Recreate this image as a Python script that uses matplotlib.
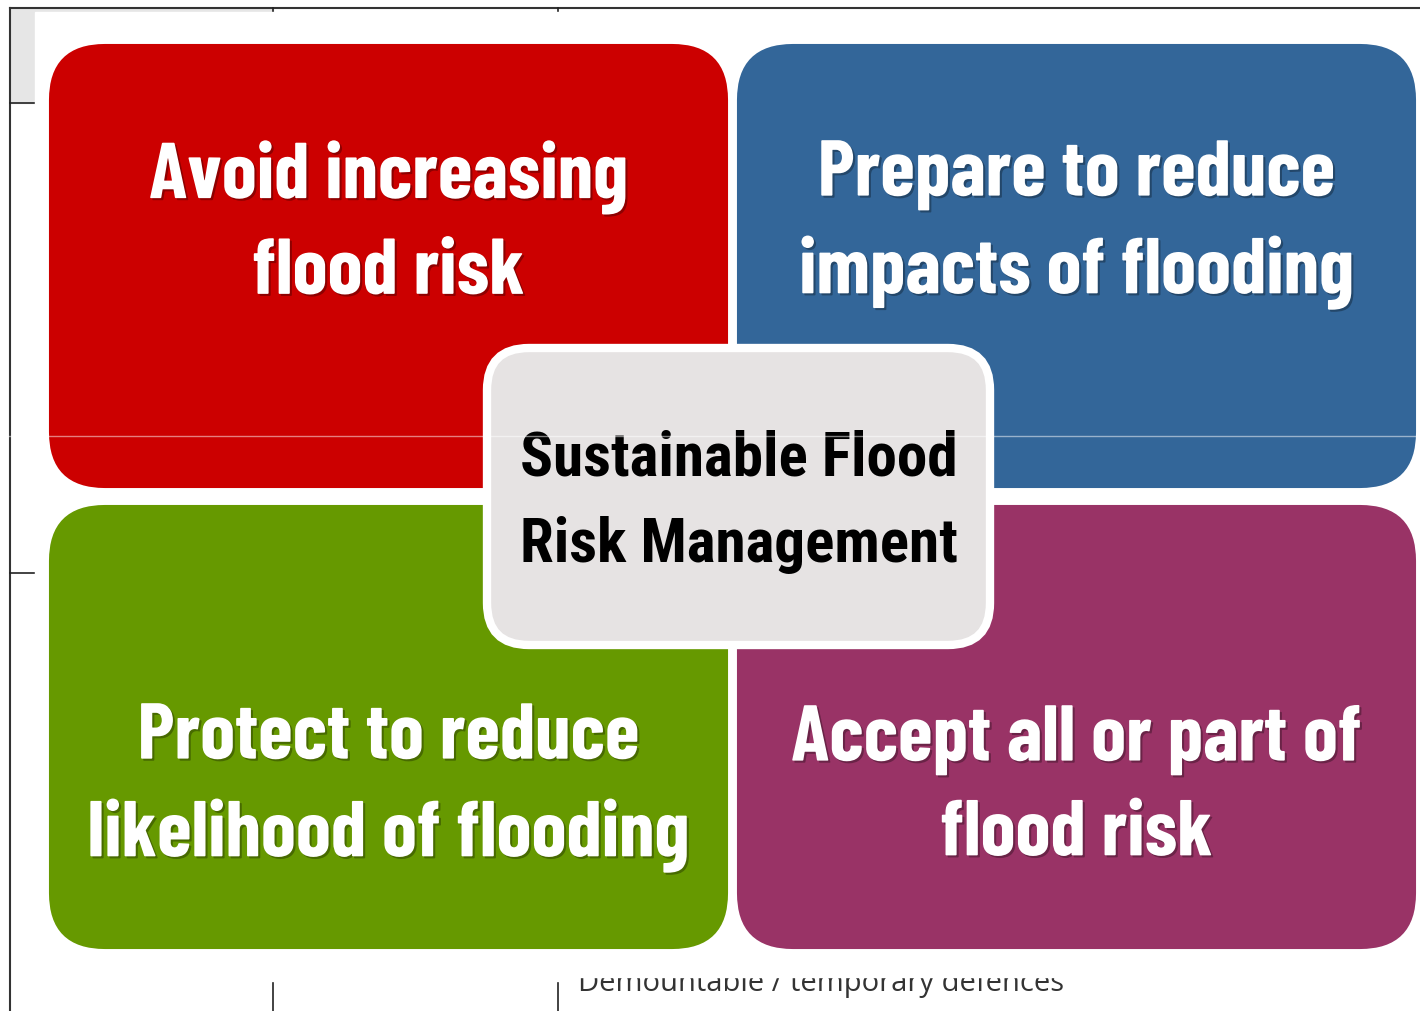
import matplotlib.pyplot as plt
import matplotlib.patheffects as pe
from matplotlib.patches import FancyBboxPatch, Rectangle

# quadrant texts and fills (top-left, top-right, bottom-left, bottom-right)
labels = ["Avoid increasing\nflood risk",
          "Prepare to reduce\nimpacts of flooding",
          "Protect to reduce\nlikelihood of flooding",
          "Accept all or part of\nflood risk"]
colors = ["#cc0000", "#336699", "#669900", "#993366"]
centre_label = "Sustainable Flood\nRisk Management"
table_text = "Demountable / temporary defences"

narrow = ["Barlow Condensed", "Roboto Condensed", "DejaVu Sans"]
centre_font = ["Roboto Condensed", "DejaVu Sans"]

W, H = 1420, 1011
fig = plt.figure(figsize=(W / 100, H / 100), dpi=100)
ax = fig.add_axes([0, 0, 1, 1])
ax.set_xlim(0, W)
ax.set_ylim(H, 0)
ax.axis("off")

# bits of the document table peeking out behind the picture
ax.add_patch(Rectangle((10, 8), 263, 95, color="#e6e6e6", zorder=0))
ax.plot([10, W], [8, 8], color="#333333", lw=1.5, zorder=1)
ax.plot([10, 10], [8, H], color="#333333", lw=1.5, zorder=1)
for yy in (103, 573):
    ax.plot([10, 40], [yy, yy], color="#222222", lw=1.2, zorder=1)
for xx in (273, 558):
    ax.plot([xx, xx], [8, 14], color="#222222", lw=1.2, zorder=1)
    ax.plot([xx, xx], [983, H], color="#222222", lw=1.2, zorder=1)
ax.text(578, 983, table_text, fontsize=21, color="#333333", family="Open Sans",
        va="center", ha="left", zorder=1)

# white picture area
ax.add_patch(Rectangle((35, 12), W - 35, 965, color="white", zorder=2))

shadow = [pe.withSimplePatchShadow(offset=(1.5, -1.5), shadow_rgbFace="black", alpha=0.3)]

# 2x2 grid of rounded boxes
x0, y0 = 50, 45
bw, bh = 677, 442
gx, gy = 11, 19
for i, (lab, col) in enumerate(zip(labels, colors)):
    r, c = divmod(i, 2)
    bx = x0 + c * (bw + gx)
    by = y0 + r * (bh + gy)
    ax.add_patch(FancyBboxPatch((bx, by), bw, bh,
                                boxstyle="round,pad=0,rounding_size=55",
                                fc=col, ec=col, lw=1.5, zorder=3))
    ty = by + bh / 2 + (-41 if r == 0 else 61)
    ax.text(bx + bw / 2, ty, lab, color="white", fontsize=57, weight="bold",
            family=narrow, ha="center", va="center",
            linespacing=1.45, zorder=4, path_effects=shadow)

# centre box
cw, ch = 503, 297
cx = x0 + bw + gx / 2 + 6
cy = y0 + bh + gy / 2
ax.add_patch(FancyBboxPatch((cx - cw / 2, cy - ch / 2), cw, ch,
                            boxstyle="round,pad=0,rounding_size=42",
                            fc="#e6e3e3", ec="white", lw=6, zorder=5))
ax.text(cx, cy + 5, centre_label, color="black", fontsize=44, weight="bold",
        family=centre_font, ha="center", va="center",
        linespacing=1.62, zorder=6)

# faint scan line across the picture
ax.plot([0, W], [436, 436], color="white", lw=1, alpha=0.5, zorder=7)

fig.savefig("out.png", dpi=100)
